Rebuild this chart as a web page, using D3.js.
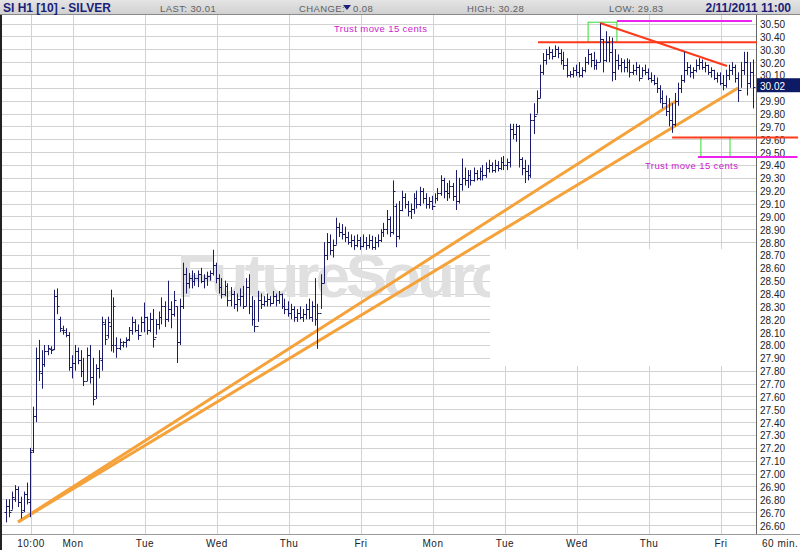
<!DOCTYPE html>
<html><head><meta charset="utf-8">
<script src="https://cdn.jsdelivr.net/npm/d3@7"></script>
<style>body{margin:0;background:#fff}svg{display:block}</style>
</head><body>
<svg id="c" width="800" height="550"></svg>
<script>
// ---------- DATA ----------
const highs = [26.80,26.80,26.86,26.91,26.90,26.82,26.86,26.93,27.20,27.52,27.98,28.04,27.96,28.00,28.00,27.99,28.43,28.44,28.22,28.15,28.13,28.10,27.92,
28.00,27.98,27.96,27.90,27.98,28.00,27.90,27.85,27.96,28.22,28.20,28.22,28.43,28.37,28.06,28.05,28.03,28.06,28.14,28.22,28.20,28.16,28.22,28.33,
28.22,28.25,28.28,28.20,28.26,28.37,28.34,28.50,28.34,28.42,28.30,28.36,28.64,28.60,28.56,28.58,28.56,28.58,28.60,28.55,28.57,28.58,28.74,28.64,
28.55,28.52,28.50,28.48,28.45,28.42,28.40,28.44,28.46,28.52,28.55,28.38,28.35,28.42,28.40,28.38,28.40,28.38,28.42,28.40,28.42,28.40,28.36,28.34,
28.32,28.30,28.28,28.30,28.28,28.32,28.36,28.34,28.52,28.32,28.55,28.80,28.87,28.86,28.82,28.99,28.95,28.94,28.92,28.88,28.86,28.85,28.86,28.84,
28.86,28.84,28.86,28.85,28.84,28.86,28.90,28.95,29.05,29.00,29.28,29.10,29.12,29.20,29.18,29.12,29.10,29.18,29.20,29.23,29.22,29.18,29.15,29.16,
29.18,29.22,29.32,29.30,29.26,29.28,29.26,29.36,29.30,29.45,29.38,29.36,29.36,29.38,29.36,29.38,29.40,29.42,29.44,29.42,29.44,29.43,29.46,29.47,
29.45,29.72,29.72,29.72,29.71,29.46,29.44,29.40,29.80,29.88,29.98,30.18,30.27,30.30,30.32,30.30,30.33,30.32,30.30,30.28,30.23,30.13,30.16,30.18,
30.20,30.16,30.24,30.30,30.27,30.28,30.22,30.50,30.38,30.44,30.40,30.39,30.30,30.26,30.23,30.22,30.23,30.22,30.18,30.20,30.18,30.16,30.18,30.15,
30.12,30.10,30.08,30.02,29.98,29.94,29.92,29.88,29.96,30.04,30.10,30.28,30.20,30.18,30.16,30.22,30.23,30.22,30.20,30.18,30.16,30.14,30.12,30.12,
30.10,30.14,30.18,30.20,30.18,30.12,30.20,30.28,30.28,30.20,30.22];
const lows = [26.62,26.66,26.72,26.78,26.74,26.65,26.70,26.76,26.66,27.16,27.40,27.72,27.66,27.83,27.92,27.93,27.96,28.24,28.10,28.08,28.06,27.80,27.74,
27.80,27.85,27.75,27.68,27.72,27.70,27.53,27.58,27.74,27.80,28.00,28.05,27.95,27.94,27.90,27.96,27.98,27.98,28.03,28.08,28.10,28.04,28.10,28.10,
28.08,28.10,27.98,28.08,28.12,28.16,28.14,28.18,28.13,28.22,27.86,28.00,28.28,28.40,28.44,28.44,28.46,28.45,28.48,28.44,28.46,28.50,28.54,28.48,
28.40,28.36,28.38,28.30,28.30,28.28,28.26,28.30,28.28,28.30,28.24,28.15,28.10,28.18,28.28,28.30,28.30,28.30,28.32,28.30,28.32,28.28,28.24,28.22,
28.20,28.18,28.18,28.20,28.18,28.20,28.20,28.18,28.15,27.97,28.28,28.48,28.66,28.70,28.68,28.78,28.84,28.82,28.80,28.78,28.76,28.74,28.76,28.74,
28.76,28.74,28.75,28.74,28.74,28.76,28.80,28.84,28.86,28.84,28.86,28.76,28.82,29.04,29.06,29.00,28.98,29.02,29.06,29.08,29.10,29.06,29.06,29.05,
29.10,29.12,29.16,29.14,29.12,29.14,29.12,29.05,29.10,29.20,29.24,29.22,29.24,29.27,29.28,29.28,29.28,29.30,29.34,29.34,29.34,29.35,29.36,29.36,
29.36,29.38,29.60,29.58,29.38,29.32,29.26,29.28,29.30,29.64,29.80,29.92,30.10,30.18,30.22,30.22,30.24,30.23,30.18,30.14,30.08,30.08,30.08,30.09,
30.08,30.08,30.12,30.18,30.16,30.14,30.14,30.20,30.12,30.20,30.20,30.05,30.06,30.14,30.12,30.12,30.12,30.08,30.10,30.10,30.05,30.08,30.10,30.06,
30.04,30.02,29.96,29.88,29.84,29.78,29.70,29.65,29.70,29.86,29.96,30.04,30.10,30.08,30.07,30.12,30.14,30.14,30.12,30.10,30.08,30.06,30.04,30.02,
29.98,30.00,30.06,30.10,30.04,29.89,30.00,30.10,29.94,30.00,29.84];
const opens = [26.70,26.75,26.72,26.80,26.88,26.78,26.72,26.84,26.78,27.18,27.45,27.90,27.78,27.85,27.95,27.97,27.97,28.38,28.20,28.12,28.10,28.08,27.83,
27.86,27.95,27.88,27.80,27.72,27.92,27.75,27.60,27.82,27.88,28.16,28.08,28.15,28.00,28.00,27.98,28.00,28.02,28.05,28.12,28.18,28.12,28.08,28.18,
28.22,28.12,28.20,28.06,28.16,28.22,28.30,28.20,28.28,28.24,28.30,28.02,28.30,28.55,28.48,28.52,28.50,28.52,28.55,28.50,28.52,28.54,28.56,28.62,
28.52,28.45,28.40,28.46,28.35,28.40,28.32,28.36,28.38,28.30,28.45,28.30,28.20,28.15,28.35,28.32,28.34,28.36,28.33,28.38,28.35,28.40,28.30,28.28,
28.25,28.28,28.22,28.25,28.22,28.24,28.28,28.22,28.30,28.20,28.25,28.48,28.70,28.80,28.74,28.78,28.92,28.88,28.86,28.84,28.80,28.82,28.78,28.82,
28.77,28.80,28.78,28.82,28.76,28.80,28.82,28.88,28.90,28.98,28.88,29.08,28.85,29.05,29.15,29.10,29.04,29.06,29.14,29.10,29.20,29.14,29.10,29.12,
29.08,29.14,29.18,29.28,29.20,29.18,29.24,29.16,29.12,29.25,29.30,29.28,29.32,29.28,29.34,29.30,29.35,29.32,29.38,29.40,29.36,29.40,29.38,29.42,
29.40,29.42,29.68,29.64,29.70,29.45,29.38,29.35,29.32,29.75,29.80,29.92,30.12,30.22,30.26,30.28,30.25,30.30,30.27,30.22,30.18,30.10,30.11,30.14,
30.12,30.10,30.14,30.20,30.26,30.22,30.18,30.20,30.38,30.22,30.36,30.28,30.12,30.22,30.18,30.20,30.16,30.20,30.12,30.14,30.16,30.08,30.14,30.12,
30.08,30.06,30.04,30.00,29.92,29.88,29.82,29.75,29.72,29.90,30.00,30.06,30.14,30.16,30.12,30.14,30.18,30.20,30.16,30.18,30.12,30.14,30.08,30.10,
30.04,30.02,30.10,30.14,30.16,30.08,29.98,30.14,30.20,30.04,30.12];
const closes = [26.75,26.70,26.82,26.88,26.78,26.70,26.84,26.80,27.17,27.45,27.90,27.80,27.85,27.95,27.98,27.96,28.38,28.30,28.13,28.12,28.08,27.83,27.86,
27.95,27.88,27.80,27.72,27.92,27.75,27.58,27.82,27.90,28.18,28.05,28.18,28.00,28.30,27.98,28.02,28.02,28.04,28.12,28.18,28.12,28.08,28.18,28.22,
28.12,28.20,28.05,28.16,28.22,28.30,28.20,28.28,28.24,28.35,28.02,28.30,28.55,28.48,28.52,28.50,28.52,28.55,28.50,28.52,28.54,28.56,28.62,28.52,
28.45,28.40,28.46,28.35,28.40,28.32,28.36,28.38,28.30,28.45,28.30,28.20,28.15,28.35,28.32,28.34,28.36,28.33,28.38,28.35,28.40,28.30,28.28,28.25,
28.28,28.22,28.25,28.22,28.24,28.28,28.22,28.30,28.20,28.25,28.48,28.70,28.80,28.74,28.78,28.92,28.88,28.86,28.84,28.80,28.82,28.78,28.82,28.77,
28.80,28.78,28.82,28.76,28.80,28.82,28.88,28.90,28.98,28.88,29.20,28.85,29.05,29.15,29.10,29.04,29.06,29.14,29.10,29.20,29.14,29.10,29.12,29.08,
29.14,29.18,29.28,29.20,29.18,29.24,29.16,29.12,29.25,29.30,29.28,29.32,29.28,29.34,29.30,29.35,29.32,29.38,29.40,29.36,29.40,29.38,29.42,29.40,
29.42,29.68,29.64,29.70,29.45,29.38,29.35,29.32,29.75,29.78,29.92,30.12,30.22,30.26,30.28,30.25,30.30,30.27,30.22,30.18,30.10,30.11,30.14,30.12,
30.10,30.14,30.20,30.26,30.22,30.18,30.20,30.38,30.22,30.36,30.28,30.12,30.22,30.18,30.20,30.16,30.20,30.12,30.14,30.16,30.08,30.14,30.12,30.08,
30.06,30.04,30.00,29.92,29.88,29.82,29.75,29.72,29.90,30.00,30.06,30.14,30.16,30.12,30.14,30.18,30.20,30.16,30.18,30.12,30.14,30.08,30.10,30.04,
30.02,30.10,30.14,30.16,30.08,29.98,30.14,30.20,30.04,30.12,30.01];

const xTickPos    = [8.5, 22.5, 46.5, 70.5, 94.5, 118.5, 142.5, 166.5, 190.5, 214.5, 238.5];
const xTickLabels = ["10:00","Mon","Tue","Wed","Thu","Fri","Mon","Tue","Wed","Thu","Fri"];
const yTickValues = d3.range(266, 306).map(v => v / 10);

const headerTitle = "SI H1 [10] - SILVER";
const headerLast = "LAST: 30.01";
const headerChange = "0.08";
const headerHigh = "HIGH: 30.28";
const headerLow = "LOW: 29.83";
const headerDate = "2/11/2011 11:00";
const lastValue = 30.02;
const noteText = "Trust move 15 cents";

// annotation drawings in (bar index, price)
const orangeLines = [[[4.2, 26.624], [223.5, 29.897]], [[4.2, 26.624], [244.2, 29.998]]];
const redLines = [[[177.5, 30.355], [250.5, 30.355]], [[198.2, 30.504], [240.5, 30.17]], [[222.2, 29.614], [264.2, 29.614]]];
const magentaLines = [[[203.8, 30.52], [248.8, 30.52]], [[230.8, 29.462], [264.0, 29.462]]];
const greenBoxes = [[194.2, 203.8, 30.355, 30.51], [231.8, 241.5, 29.462, 29.614]];

// ---------- CHART ----------
const svg = d3.select("#c");
const W = 800, H = 550;
const plotL = 1, plotR = 756, plotT = 15, plotB = 534;
const x = d3.scaleLinear().domain([0, 249]).range([5.5, 752.5]);
const y = d3.scaleLinear().domain([26.6, 30.5]).range([525, 23.5]);
const FONT = "'Liberation Sans', Arial, sans-serif";
const navy = "#1b1b6b";

// header
const hg = svg.append("defs").append("linearGradient").attr("id","hg").attr("x1",0).attr("y1",0).attr("x2",0).attr("y2",1);
hg.append("stop").attr("offset","0%").attr("stop-color","#e4e4e4");
hg.append("stop").attr("offset","100%").attr("stop-color","#cfcfcf");
svg.append("rect").attr("x",0).attr("y",0).attr("width",W).attr("height",15).attr("fill","url(#hg)");
svg.append("line").attr("x1",0).attr("x2",W).attr("y1",14.5).attr("y2",14.5).attr("stroke","#8a8a8a");
svg.append("text").attr("x",3).attr("y",12).attr("font-family",FONT).attr("font-weight","bold").attr("font-size",12).attr("fill","#1a1f7a").text(headerTitle);
const hdr = (xx, t) => svg.append("text").attr("x",xx).attr("y",11.5).attr("font-family",FONT).attr("font-size",9.5).attr("letter-spacing",0.4).attr("fill","#606060").text(t);
hdr(160, headerLast);
hdr(299, "CHANGE:");
svg.append("path").attr("d","M343,5 L351,5 L347,10 Z").attr("fill","#1a1f7a");
hdr(353, headerChange);
hdr(467, headerHigh);
hdr(609, headerLow);
svg.append("text").attr("x",791).attr("y",12).attr("text-anchor","end").attr("font-family",FONT).attr("font-weight","bold").attr("font-size",12).attr("fill","#1a1f7a").text(headerDate);

// gridlines
const grid = svg.append("g");
grid.selectAll("line.h").data(yTickValues).join("line")
  .attr("x1", plotL).attr("x2", plotR)
  .attr("y1", d => Math.round(y(d)) + 0.5).attr("y2", d => Math.round(y(d)) + 0.5)
  .attr("stroke", "#d2d2d2");
grid.selectAll("line.v").data(xTickPos).join("line")
  .attr("x1", d => Math.round(x(d)) + 0.5).attr("x2", d => Math.round(x(d)) + 0.5)
  .attr("y1", plotT).attr("y2", plotB)
  .attr("stroke", "#d2d2d2");

// watermark
svg.append("text").attr("x",177).attr("y",297).attr("font-family",FONT).attr("font-weight","bold")
  .attr("font-size",62).attr("letter-spacing",-4).attr("fill","#e0e0e0").text("FutureSource");
svg.append("rect").attr("x",490).attr("y",249).attr("width",plotR-490).attr("height",117).attr("fill","#fff");

// axes lines
svg.append("line").attr("x1",plotR+0.5).attr("x2",plotR+0.5).attr("y1",plotT).attr("y2",plotB).attr("stroke","#666");
svg.append("line").attr("x1",0).attr("x2",W).attr("y1",plotB+0.5).attr("y2",plotB+0.5).attr("stroke","#999");
svg.append("line").attr("x1",1).attr("x2",1).attr("y1",plotT).attr("y2",H).attr("stroke","#222").attr("stroke-width",2);

// y labels (the value under the last-price box is hidden, as in the original)
svg.append("g").selectAll("text").data(yTickValues.filter(d => Math.abs(y(d) - y(lastValue)) > 7)).join("text")
  .attr("x", 760).attr("y", d => y(d) + 4.5)
  .attr("font-family", FONT).attr("font-size", 10).attr("fill", "#222")
  .text(d => d3.format(".2f")(d));

// x labels
svg.append("g").selectAll("text").data(xTickPos).join("text")
  .attr("x", (d) => x(d)).attr("y", 547).attr("text-anchor","middle")
  .attr("font-family", FONT).attr("font-size", 10).attr("letter-spacing", 0.5).attr("fill", "#222")
  .text((d,i) => xTickLabels[i]);
svg.append("text").attr("x",762).attr("y",547).attr("font-family",FONT).attr("font-size",10).attr("letter-spacing",0.5).attr("fill","#222").text("60 min.");

// annotations
const ann = svg.append("g");
const seg = (g, data, color, w) => g.selectAll(null).data(data).join("line")
  .attr("x1", d => x(d[0][0])).attr("y1", d => y(d[0][1]))
  .attr("x2", d => x(d[1][0])).attr("y2", d => y(d[1][1]))
  .attr("stroke", color).attr("stroke-width", w).attr("stroke-linecap","butt");
ann.selectAll("rect").data(greenBoxes).join("rect")
  .attr("x", d => x(d[0])).attr("width", d => x(d[1]) - x(d[0]))
  .attr("y", d => y(d[3])).attr("height", d => y(d[2]) - y(d[3]))
  .attr("fill","none").attr("stroke","#33dd33").attr("stroke-width",1);
seg(ann, orangeLines, "#f5a23a", 3);

// bars
const bars = svg.append("g").attr("stroke", navy).attr("stroke-width", 1);
const idx = d3.range(highs.length);
bars.selectAll("line.hl").data(idx).join("line")
  .attr("x1", i => Math.round(x(i)) + 0.5).attr("x2", i => Math.round(x(i)) + 0.5)
  .attr("y1", i => y(highs[i])).attr("y2", i => y(lows[i]));
bars.selectAll("line.o").data(idx).join("line")
  .attr("x1", i => Math.round(x(i)) - 1.5).attr("x2", i => Math.round(x(i)) + 0.5)
  .attr("y1", i => Math.round(y(opens[i])) + 0.5).attr("y2", i => Math.round(y(opens[i])) + 0.5);
bars.selectAll("line.c").data(idx).join("line")
  .attr("x1", i => Math.round(x(i)) + 0.5).attr("x2", i => Math.round(x(i)) + 2.5)
  .attr("y1", i => Math.round(y(closes[i])) + 0.5).attr("y2", i => Math.round(y(closes[i])) + 0.5);

seg(ann.append("g"), redLines, "#ff3a1a", 2);
seg(ann.append("g"), magentaLines, "#ee22ee", 2);
const note = (xx, yy) => svg.append("text").attr("x",xx).attr("y",yy).attr("font-family",FONT).attr("font-size",9.5).attr("letter-spacing",0.4).attr("fill","#cc22cc").text(noteText);
note(334, 31.5);
note(645, 169);

// last value box
svg.append("rect").attr("x",757).attr("y",y(lastValue)-7).attr("width",43).attr("height",14).attr("fill","#0d1a66");
svg.append("text").attr("x",760).attr("y",y(lastValue)+4.5).attr("font-family",FONT).attr("font-size",10).attr("fill","#fff").text(d3.format(".2f")(lastValue));
</script>
</body></html>
